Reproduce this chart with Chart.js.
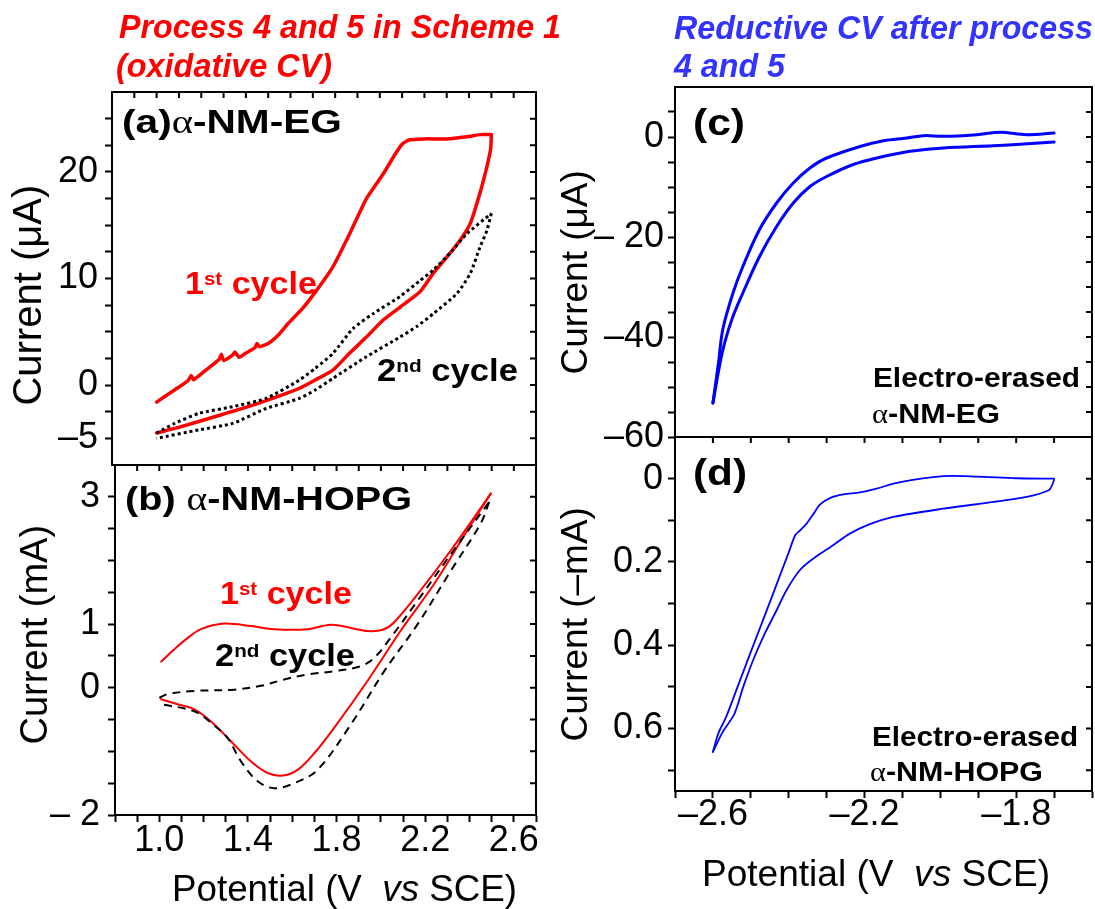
<!DOCTYPE html>
<html><head><meta charset="utf-8">
<script src="https://cdn.jsdelivr.net/npm/chart.js@4.4.1/dist/chart.umd.min.js"></script>
<style>
html,body{margin:0;padding:0;background:#fff;}
body{width:1095px;height:909px;position:relative;overflow:hidden;font-family:"Liberation Sans",Arial,Helvetica,sans-serif;}
canvas{position:absolute;left:0;top:0;}
.t{position:absolute;white-space:nowrap;line-height:1;font-weight:bold;color:#000;transform-origin:0 0;z-index:5;}
.t sup{font-size:60%;position:relative;top:-0.45em;vertical-align:baseline;line-height:0;}
.hdr{font-style:italic;}
.reg{font-weight:normal;}
.al{font-weight:normal;font-family:"Liberation Serif","DejaVu Serif",serif;}
</style></head><body>
<canvas id="ca" width="1095" height="909"></canvas>
<canvas id="cb" width="1095" height="909"></canvas>
<canvas id="cc" width="1095" height="909"></canvas>
<canvas id="cd" width="1095" height="909"></canvas>
<script>
// ---------- tick arrays ----------
const abXTicks = [0.8,0.9,1.0,1.1,1.2,1.3,1.4,1.5,1.6,1.7,1.8,1.9,2.0,2.1,2.2,2.3,2.4,2.5,2.6,2.7];
const abXLabelVals = [1.0,1.4,1.8,2.2,2.6];
const abXLabelText = ['1.0','1.4','1.8','2.2','2.6'];
const cdXTicks = [-2.7,-2.6,-2.5,-2.4,-2.3,-2.2,-2.1,-2.0,-1.9,-1.8,-1.7,-1.6];
const cdXLabelVals = [-2.6,-2.2,-1.8];
const cdXLabelText = ['\u20132.6','\u20132.2','\u20131.8'];

const aYTicks = [-5,-2.5,0,2.5,5,7.5,10,12.5,15,17.5,20,22.5,25];
const aYLabelVals = [20,10,0,-5];
const aYLabelText = ['20','10','0','\u20135'];
const bYTicks = [-2,-1.5,-1,-0.5,0,0.5,1,1.5,2,2.5,3];
const bYLabelVals = [3,1,0,-2];
const bYLabelText = ['3','1','0','\u2013 2'];
const cYTicks = [-60,-55,-50,-45,-40,-35,-30,-25,-20,-15,-10,-5,0,5];
const cYLabelVals = [0,-20,-40,-60];
const cYLabelText = ['0','\u2013 20','\u201340','\u201360'];
const dYTicks = [0,0.1,0.2,0.3,0.4,0.5,0.6,0.7];
const dYLabelVals = [0,0.2,0.4,0.6];
const dYLabelText = ['0','0.2','0.4','0.6'];

// ---------- panel (a): alpha-NM-EG, current in uA ----------
const aRedFwdV = [1.00,1.07,1.14,1.155,1.165,1.22,1.28,1.29,1.30,1.34,1.35,1.37,1.40,1.44,1.45,1.46,1.50,1.55,1.59,1.65,1.71,1.79,1.865,1.94,2.015,2.07,2.10,2.13,2.20,2.30,2.39,2.45,2.50];
const aRedFwdI = [-1.6,-0.6,0.4,0.9,0.5,1.4,2.4,2.9,2.3,2.8,3.1,2.6,3.0,3.5,3.9,3.6,3.9,4.8,5.8,7.1,8.7,11.1,14.2,17.5,19.8,21.7,22.6,23.0,23.1,23.1,23.3,23.5,23.5];
const aRedRevV = [2.50,2.497,2.48,2.45,2.406,2.36,2.30,2.24,2.18,2.09,2.015,1.94,1.865,1.79,1.71,1.64,1.56,1.41,1.26,1.11,1.00];
const aRedRevI = [23.5,22.2,20.5,18.1,15.2,13.6,12.0,10.5,8.75,7.3,6.1,4.5,3.0,1.4,0.47,-0.3,-0.94,-2.03,-2.97,-3.9,-4.5];
const aBlkFwdV = [1.00,1.08,1.19,1.34,1.49,1.64,1.71,1.79,1.88,1.97,2.09,2.18,2.24,2.32,2.39,2.50];
const aBlkFwdI = [-4.5,-3.6,-2.65,-2.03,-1.25,0.47,1.56,2.97,5.3,6.7,8.3,9.8,10.8,12.5,14.2,16.1];
const aBlkRevV = [2.50,2.48,2.45,2.406,2.346,2.24,2.166,2.09,1.94,1.79,1.71,1.64,1.49,1.34,1.19,1.00];
const aBlkRevI = [16.1,14.5,13.0,10.5,8.6,6.7,5.5,4.5,2.66,0.63,-0.47,-1.25,-2.2,-3.6,-4.2,-5.0];

// ---------- panel (b): alpha-NM-HOPG, current in mA ----------
const bRedFwdV = [1.008,1.06,1.113,1.188,1.293,1.414,1.519,1.669,1.774,1.864,1.94,2.008,2.06,2.166,2.316,2.496];
const bRedFwdI = [0.41,0.58,0.74,0.92,1.01,0.97,0.92,0.92,0.99,0.94,0.89,0.91,1.03,1.47,2.16,3.05];
const bRedRevV = [2.496,2.39,2.24,2.09,1.94,1.789,1.699,1.624,1.557,1.489,1.414,1.323,1.233,1.158,1.083,1.008];
const bRedRevI = [3.05,2.47,1.63,0.9,0.11,-0.63,-1.03,-1.29,-1.38,-1.34,-1.16,-0.84,-0.53,-0.34,-0.26,-0.18];
const bBlkFwdV = [1.0,1.038,1.158,1.338,1.459,1.564,1.669,1.789,1.91,1.97,2.045,2.166,2.316,2.489];
const bBlkFwdI = [-0.16,-0.1,-0.05,-0.03,0.03,0.13,0.21,0.26,0.34,0.47,0.79,1.37,2.1,2.92];
const bBlkRevV = [2.489,2.45,2.316,2.166,2.015,1.864,1.714,1.609,1.519,1.444,1.369,1.308,1.233,1.158,1.008];
const bBlkRevI = [2.92,2.58,1.84,1.0,0.26,-0.58,-1.29,-1.5,-1.58,-1.47,-1.16,-0.79,-0.55,-0.37,-0.26];

// ---------- panel (c): electro-erased alpha-NM-EG, current in uA ----------
const cLoV = [-1.70,-1.78,-1.86,-1.992,-2.08,-2.168,-2.23,-2.30,-2.344,-2.388,-2.432,-2.477,-2.521,-2.55,-2.575,-2.60];
const cLoI = [-1.0,-1.4,-1.74,-2.2,-2.87,-4.2,-5.5,-7.9,-9.9,-13.2,-17.9,-23.9,-31.2,-36.5,-43,-53.2];
const cUpV = [-2.60,-2.585,-2.574,-2.547,-2.521,-2.477,-2.432,-2.388,-2.344,-2.30,-2.212,-2.15,-2.089,-2.045,-1.992,-1.904,-1.842,-1.772,-1.70];
const cUpI = [-53.2,-45,-38.5,-31.2,-25.9,-18.5,-13.2,-9.2,-6.2,-4.2,-1.9,-0.74,-0.2,0.27,0.13,0.47,0.93,0.47,0.8];

// ---------- panel (d): electro-erased alpha-NM-HOPG, current in -mA ----------
const dUpV = [-2.60,-2.585,-2.565,-2.53,-2.495,-2.46,-2.43,-2.40,-2.383,-2.37,-2.353,-2.335,-2.317,-2.29,-2.256,-2.212,-2.168,-2.124,-2.08,-1.992,-1.904,-1.80,-1.70];
const dUpI = [0.656,0.61,0.572,0.488,0.404,0.321,0.249,0.177,0.136,0.124,0.108,0.085,0.062,0.046,0.038,0.033,0.024,0.012,0.004,-0.006,-0.005,-0.001,0.0];
const dLoV = [-1.70,-1.705,-1.714,-1.772,-1.86,-1.992,-2.124,-2.194,-2.239,-2.283,-2.335,-2.371,-2.406,-2.432,-2.462,-2.494,-2.52,-2.543,-2.574,-2.60];
const dLoI = [0.003,0.015,0.028,0.044,0.056,0.072,0.092,0.112,0.132,0.16,0.192,0.22,0.268,0.316,0.37,0.436,0.50,0.564,0.608,0.656];

// ---------- helpers ----------
const FONT = '"Liberation Sans", Arial, Helvetica, sans-serif';
const XAXIS_H = 80;
function lab(v, vals, texts){ for(let i=0;i<vals.length;i++){ if(Math.abs(vals[i]-v)<1e-6) return texts[i]; } return ''; }
function line(vs, is, color, w, dash, t){
  return {data: vs.map((v,i)=>({x:v,y:is[i]})), showLine:true, borderColor:color, backgroundColor:color,
    borderWidth:w, borderDash:dash, pointRadius:0, pointHoverRadius:0, tension:t, fill:false,
    borderCapStyle: dash.length ? 'butt' : 'round', borderJoinStyle:'round'};
}
function xScale(c){
  return {type:'linear', position:'bottom', min:c.min, max:c.max, display:c.show,
    afterBuildTicks: s=>{ s.ticks = c.ticks.map(v=>({value:v})); },
    afterFit: s=>{ s.height = c.show ? XAXIS_H : 0; },
    ticks:{autoSkip:false, maxRotation:0, minRotation:0, padding:c.pad, color:'#000', font:{family:FONT,size:36},
      callback: v=>lab(v,c.labVals,c.labText)},
    grid:{drawOnChartArea:false, drawTicks:true, tickLength:7, tickWidth:2, tickColor:'#000', color:'#000'},
    border:{display:true, color:'#000', width:2}};
}
function yScale(c){
  return {type:'linear', position:'left', min:c.min, max:c.max, reverse:!!c.reverse,
    afterBuildTicks: s=>{ s.ticks = c.ticks.map(v=>({value:v})); },
    afterFit: s=>{ s.width = c.width; },
    ticks:{autoSkip:false, padding:c.pad, color:'#000', font:{family:FONT,size:36},
      callback: v=>lab(v,c.labVals,c.labText)},
    grid:{drawOnChartArea:false, drawTicks:true, tickLength:7, tickWidth:2, tickColor:'#000', color:'#000'},
    border:{display:true, color:'#000', width:2},
    title:{display:true, text:c.title, color:'#000', font:{family:FONT,size:c.tsize}, padding:{top:c.tpad,bottom:0}}};
}
function makeFrame(topVals, rightVals){
  return {id:'frame', afterDraw(chart){
    const {ctx, chartArea:a, scales} = chart;
    ctx.save();
    ctx.strokeStyle='#000'; ctx.lineWidth=2;
    ctx.strokeRect(a.left, a.top, a.right-a.left, a.bottom-a.top);
    ctx.beginPath();
    topVals.forEach(v=>{ const x=scales.x.getPixelForValue(v); ctx.moveTo(x,a.top); ctx.lineTo(x,a.top+6); });
    rightVals.forEach(v=>{ const y=scales.y.getPixelForValue(v); ctx.moveTo(a.right,y); ctx.lineTo(a.right-6,y); });
    ctx.stroke();
    ctx.restore();
  }};
}
function opts(padding, x, y){
  return {responsive:false, animation:false, events:[], layout:{padding},
    plugins:{legend:{display:false}, tooltip:{enabled:false}}, scales:{x, y}};
}

// ---------- chart (a) ----------
new Chart(document.getElementById('ca'), {
  type:'scatter',
  data:{datasets:[
    line(aBlkFwdV,aBlkFwdI,'#000',3,[3,3],0.2),
    line(aBlkRevV,aBlkRevI,'#000',3,[3,3],0.2),
    line(aRedFwdV,aRedFwdI,'#ff0000',3.5,[],0.15),
    line(aRedRevV,aRedRevI,'#ff0000',3.5,[],0.2)
  ]},
  options: opts({left:0,top:92,right:559,bottom:444},
    xScale({min:0.8,max:2.7,ticks:abXTicks,labVals:[],labText:[],show:false,pad:0}),
    yScale({min:-7.5,max:27.5,ticks:aYTicks,labVals:aYLabelVals,labText:aYLabelText,width:112,pad:7,
      title:'Current (\u03bcA)   ',tsize:40,tpad:6})),
  plugins:[makeFrame(abXTicks, aYTicks)]
});

// ---------- chart (b) ----------
new Chart(document.getElementById('cb'), {
  type:'scatter',
  data:{datasets:[
    line(bBlkFwdV,bBlkFwdI,'#000',2,[8,6],0.35),
    line(bBlkRevV,bBlkRevI,'#000',2,[8,6],0.35),
    line(bRedFwdV,bRedFwdI,'#ff0000',2,[],0.35),
    line(bRedRevV,bRedRevI,'#ff0000',2,[],0.35)
  ]},
  options: opts({left:0,top:465,right:559,bottom:909-815-XAXIS_H},
    xScale({min:0.8,max:2.7,ticks:abXTicks,labVals:abXLabelVals,labText:abXLabelText,show:true,pad:-3}),
    yScale({min:-2,max:3.5,ticks:bYTicks,labVals:bYLabelVals,labText:bYLabelText,width:115,pad:8,
      title:' Current (mA)',tsize:38,tpad:14})),
  plugins:[makeFrame(abXTicks, bYTicks)]
});

// ---------- chart (c) ----------
new Chart(document.getElementById('cc'), {
  type:'scatter',
  data:{datasets:[
    line(cLoV,cLoI,'#0000ff',3,[],0.35),
    line(cUpV,cUpI,'#0000ff',3,[],0.35)
  ]},
  options: opts({left:0,top:87,right:3,bottom:472},
    xScale({min:-2.7,max:-1.6,ticks:cdXTicks,labVals:[],labText:[],show:false,pad:0}),
    yScale({min:-60,max:10,ticks:cYTicks,labVals:cYLabelVals,labText:cYLabelText,width:675,pad:4,
      title:'Current (\u03bcA)  ',tsize:37,tpad:555})),
  plugins:[makeFrame([], cYTicks)]
});

// ---------- chart (d) ----------
new Chart(document.getElementById('cd'), {
  type:'scatter',
  data:{datasets:[
    line(dUpV,dUpI,'#0000ff',1.8,[],0.3),
    line(dLoV,dLoI,'#0000ff',1.8,[],0.3)
  ]},
  options: opts({left:0,top:437,right:3,bottom:909-791-XAXIS_H},
    xScale({min:-2.7,max:-1.6,ticks:cdXTicks,labVals:cdXLabelVals,labText:cdXLabelText,show:true,pad:-5}),
    yScale({min:-0.1,max:0.75,reverse:true,ticks:dYTicks,labVals:dYLabelVals,labText:dYLabelText,width:675,pad:5,
      title:'Current (\u2013mA)  ',tsize:37,tpad:555})),
  plugins:[makeFrame(cdXTicks, dYTicks)]
});

// ---------- text annotations ----------
const notes = [
  {t:'Process 4 and 5 in Scheme 1', x:119, cy:26, fs:33, w:442, c:'#ff0000', it:true},
  {t:'(oxidative CV)', x:116, cy:65, fs:33, w:216, c:'#ff0000', it:true},
  {t:'Reductive CV after process', x:674, cy:27, fs:33, w:419, c:'#3333ff', it:true},
  {t:'4 and 5', x:674, cy:65, fs:33, w:111, c:'#3333ff', it:true},
  {t:'(a)<span class="al">\u03b1</span>-NM-EG', x:122, cy:121, fs:34, w:220},
  {t:'(b) <span class="al">\u03b1</span>-NM-HOPG', x:125, cy:498, fs:34, w:287},
  {t:'(c)', x:693, cy:123, fs:36, w:52},
  {t:'(d)', x:693, cy:473, fs:36, w:54},
  {t:'1<sup>st</sup> cycle', x:185, cy:283, fs:31, w:132, c:'#ff0000'},
  {t:'2<sup>nd</sup> cycle', x:377, cy:370, fs:31, w:141},
  {t:'1<sup>st</sup> cycle', x:220, cy:593, fs:31, w:132, c:'#ff0000'},
  {t:'2<sup>nd</sup> cycle', x:215, cy:655, fs:31, w:140},
  {t:'Electro-erased', x:873, cy:378, fs:27, w:207},
  {t:'<span class="al">\u03b1</span>-NM-EG', x:872, cy:414, fs:27, w:128},
  {t:'Electro-erased', x:872, cy:737, fs:27, w:206},
  {t:'<span class="al">\u03b1</span>-NM-HOPG', x:870, cy:772, fs:27, w:173},
  {t:'Potential (V&nbsp; <i>vs</i> SCE)', x:172, cy:888, fs:37, w:345, reg:true},
  {t:'Potential (V&nbsp; <i>vs</i> SCE)', x:702, cy:873, fs:37, w:348, reg:true}
];
function placeNotes(){
  notes.forEach(n=>{
    let el = n.el;
    if(!el){
      el = document.createElement('div');
      el.className = 't' + (n.it?' hdr':'') + (n.reg?' reg':'');
      el.innerHTML = n.t;
      el.style.color = n.c || '#000';
      document.body.appendChild(el);
      n.el = el;
    }
    el.style.transform = 'none';
    el.style.fontSize = n.fs + 'px';
    el.style.left = n.x + 'px';
    el.style.top = (n.cy - 0.4885*n.fs) + 'px';
    const w = el.getBoundingClientRect().width;
    if (w > 0) el.style.transform = 'scaleX(' + (n.w / w).toFixed(4) + ')';
  });
}
placeNotes();
if (document.fonts && document.fonts.ready) document.fonts.ready.then(placeNotes);
</script>
</body></html>
